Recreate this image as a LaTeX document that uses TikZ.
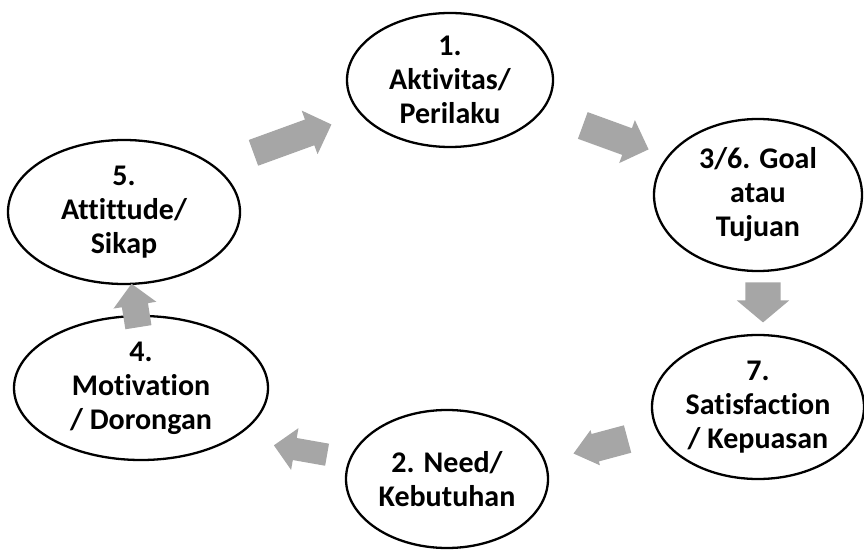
\documentclass[tikz,border=0pt]{standalone}
\usepackage{fontspec}
\setmainfont{Carlito}[Ligatures={NoCommon,NoContextual}]
\usetikzlibrary{shapes.geometric,shapes.arrows}
\definecolor{arrowgray}{RGB}{166,166,166}

\begin{document}
\begin{tikzpicture}[x=1pt,y=1pt,
	stage/.style={ellipse,draw,line width=2.3pt,inner sep=0pt,align=center,
		font=\bfseries\fontsize{30}{34}\selectfont},
	flow/.style={single arrow,fill=arrowgray,draw=none,inner xsep=0pt,
		single arrow head indent=0pt}]
	\useasboundingbox (0,0) rectangle (864,552);
	% Stages of the cycle
	\node[stage,minimum width=206pt,minimum height=134pt] (aktivitas) at (450,472) {1.\\Aktivitas/\\Perilaku};
	\node[stage,minimum width=208pt,minimum height=152pt] (goal) at (758,357) {3/6. Goal\\atau\\Tujuan};
	\node[stage,minimum width=212pt,minimum height=144pt] (satisfaction) at (758,145) {7.\\Satisfaction\\/ Kepuasan};
	\node[stage,minimum width=202pt,minimum height=138pt] (need) at (447,73) {2. Need/\\Kebutuhan};
	\node[stage,minimum width=254pt,minimum height=144pt] (motivation) at (141,164) {4.\\Motivation\\/ Dorongan};
	\node[stage,minimum width=232pt,minimum height=144pt] (attitude) at (124,340) {5.\\Attittude/\\Sikap};
	
	% Block arrows between the stages
	\node[flow,minimum height=83pt,inner ysep=13.5pt,single arrow head extend=9.5pt,rotate=20] (toaktivitas) at (286,411) {};
	\node[flow,minimum height=70pt,inner ysep=14pt,single arrow head extend=8.7pt,rotate=-20] (togoal) at (609,417) {};
	\node[flow,minimum height=40pt,inner ysep=17.5pt,single arrow head extend=8.5pt,single arrow tip angle=100,rotate=-90] (tosatisfaction) at (763,257) {};
	\node[flow,minimum height=56pt,inner ysep=14pt,single arrow head extend=4pt,single arrow tip angle=78,rotate=195] (toneed) at (609,108) {};
	\node[flow,minimum height=54pt,inner ysep=11pt,single arrow head extend=10pt,rotate=170] (tomotivation) at (306,101) {};
	\node[flow,minimum height=44pt,inner ysep=13pt,single arrow head extend=8.5pt,rotate=99] (toattitude) at (136,240) {};
\end{tikzpicture}
\end{document}
